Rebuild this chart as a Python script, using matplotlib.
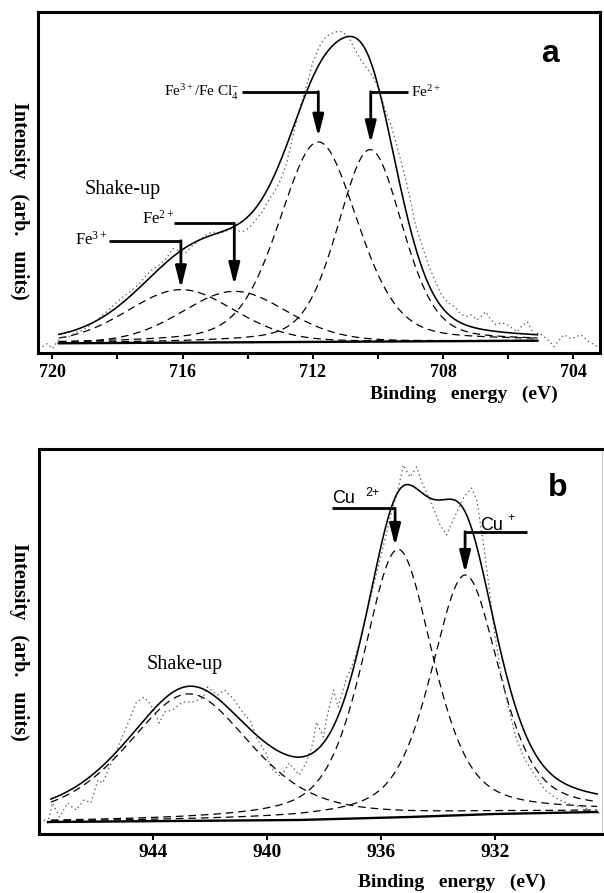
import numpy as np
import matplotlib
matplotlib.use("Agg")
import matplotlib.pyplot as plt

plt.rcParams['mathtext.fontset'] = 'custom'
plt.rcParams['mathtext.rm'] = 'Liberation Serif'
plt.rcParams['mathtext.it'] = 'Liberation Serif:italic'
plt.rcParams['mathtext.bf'] = 'Liberation Serif:bold'
plt.rcParams['lines.scale_dashes'] = False

# ---------------- Panel a : Fe 2p3/2 ----------------
fe_ev = [720.30, 720.15, 720.00, 719.85, 719.70, 719.50, 719.30, 719.10, 718.90, 718.70,
         718.50, 718.30, 718.10, 717.90, 717.70, 717.50, 717.30, 717.10, 716.90, 716.70,
         716.50, 716.30, 716.10, 715.90, 715.70, 715.50, 715.30, 715.07, 714.90, 714.70,
         714.50, 714.30, 714.15, 713.95, 713.75, 713.55, 713.40, 713.20, 713.00, 712.80,
         712.60, 712.40, 712.20, 712.00, 711.80, 711.65, 711.50, 711.30, 711.10, 710.90,
         710.75, 710.55, 710.35, 710.15, 709.95, 709.75, 709.60, 709.40, 709.20, 709.05,
         708.85, 708.65, 708.45, 708.25, 708.05, 707.85, 707.65, 707.46, 707.30, 707.15,
         706.95, 706.84, 706.69, 706.55, 706.38, 706.20, 706.03, 705.85, 705.72, 705.60,
         705.41, 705.21, 705.05, 704.90, 704.75, 704.59, 704.45, 704.28, 704.08, 703.90,
         703.77, 703.52, 703.35, 703.26]
fe_int = [6, 9, 4, 11, 16, 15, 20, 22, 26, 31,
          36, 42, 48, 54, 59, 64, 70, 78, 84, 88,
          94, 104, 102, 100, 107, 112, 117, 121, 119, 121,
          124, 122, 121, 125, 133, 141, 150, 160, 172, 190,
          218, 244, 266, 290, 306, 314, 318, 321, 321, 316,
          306, 294, 285, 276, 262, 240, 228, 205, 180, 160,
          128, 108, 88, 72, 58, 50, 46, 39, 36, 38,
          33, 36, 41, 34, 28, 30, 28, 24, 21, 26,
          31, 18, 20, 16, 12, 6, 12, 18, 14, 16,
          18, 11, 8, 6]
fe_fit_range = [719.8, 705.1]
fe_base_ev = [719.8, 705.1]
fe_base_int = [9.4, 12.0]
fe_names = ["Fe3+ shake-up", "Fe2+ shake-up", "Fe3+/FeCl4-", "Fe2+"]
fe_centers = [716.05, 714.41, 711.83, 710.24]
fe_heights = [53, 51, 200, 192]
fe_fwhm = [3.9, 3.8, 2.85, 2.35]
fe_lor = [0.15, 0.15, 0.3, 0.3]
fe_major = [720, 716, 712, 708, 704]
fe_minor = [718, 714, 710, 706]

# ---------------- Panel b : Cu 2p3/2 ----------------
cu_ev = [947.85, 947.71, 947.54, 947.30, 947.01, 946.72, 946.43, 946.19, 945.95, 945.78,
         945.43, 945.14, 944.84, 944.61, 944.32, 944.08, 943.79, 943.61, 943.32, 942.97,
         942.62, 942.26, 942.09, 941.74, 941.50, 941.21, 940.92, 940.57, 940.39, 940.04,
         939.86, 939.51, 939.22, 938.87, 938.63, 938.40, 938.26, 938.02, 937.90, 937.67,
         937.50, 937.20, 937.03, 936.79, 936.56, 936.21, 935.86, 935.61, 935.44, 935.21,
         934.98, 934.74, 934.57, 934.27, 933.92, 933.69, 933.46, 933.10, 932.81, 932.63,
         932.46, 932.34, 932.00, 931.80, 931.58, 931.23, 930.95, 930.64, 930.23, 929.85,
         929.47, 929.15, 928.89, 928.65, 928.41, 928.19]
cu_int = [14, 11, 31, 17, 31, 24, 34, 31, 54, 51,
          74, 94, 114, 131, 137, 129, 111, 122, 124, 132,
          132, 136, 147, 139, 144, 136, 124, 112, 97, 81,
          66, 57, 71, 59, 71, 90, 112, 97, 116, 144,
          127, 157, 167, 187, 214, 254, 294, 324, 339, 369,
          357, 367, 352, 334, 309, 299, 314, 336, 346, 334,
          302, 279, 200, 165, 134, 94, 75, 61, 44, 36,
          31, 28, 27, 24, 22, 19]
cu_fit_range = [947.6, 928.4]
cu_base_ev = [947.7, 938.9, 935.0, 932.0, 928.4]
cu_base_int = [12, 14, 17, 20, 22]
cu_names = ["Shake-up", "Cu2+", "Cu+"]
cu_centers = [942.75, 935.40, 933.04]
cu_heights = [127, 268, 240]
cu_fwhm = [5.2, 2.92, 2.85]
cu_lor = [0.5, 0.5, 0.5]
cu_major = [944, 940, 936, 932]


def pseudo_voigt(e, c, h, w, eta):
    d2 = (e - c) ** 2
    g = np.exp(-4 * np.log(2) * d2 / w ** 2)
    l = 1.0 / (1.0 + 4 * d2 / w ** 2)
    return h * ((1 - eta) * g + eta * l)


def draw_panel(ax, ev, inten, fit_range, base_ev, base_int, cen, hei, fw, lor):
    e = np.linspace(fit_range[0], fit_range[1], 600)
    base = np.interp(e, base_ev[::-1], base_int[::-1])
    total = base.copy()
    for c, h, w, eta in zip(cen, hei, fw, lor):
        comp = pseudo_voigt(e, c, h, w, eta)
        total += comp
        ax.plot(e, base + comp, color='k', lw=0.9, ls=(0, (5.5, 3.5)))
    ax.plot(ev, inten, color='0.35', lw=0.9, ls=(0, (1, 2.2)))
    ax.plot(base_ev, base_int, color='k', lw=1.7)
    ax.plot(e, total, color='k', lw=1.15)


def leader(ax, x0, xc, yl, yt):
    ax.plot([x0, xc], [yl, yl], color='k', lw=2.0, solid_capstyle='butt')
    ax.annotate('', xy=(xc, yt), xytext=(xc, yl),
                arrowprops=dict(arrowstyle='-|>,head_length=1.3,head_width=0.33',
                                lw=2.0, color='k', shrinkA=0, shrinkB=0,
                                mutation_scale=10))


W, H = 604, 893
fig = plt.figure(figsize=(6.04, 8.93), dpi=100)

ax_a = fig.add_axes([37.7 / W, 1 - 353 / H, (600.2 - 37.7) / W, (353 - 12) / H])
ax_b = fig.add_axes([39.3 / W, 1 - 833.5 / H, (602 - 39.3) / W, (833.5 - 449) / H])

# ---- panel a ----
draw_panel(ax_a, fe_ev, fe_int, fe_fit_range, fe_base_ev, fe_base_int,
           fe_centers, fe_heights, fe_fwhm, fe_lor)
ax_a.set_xlim(720.448, 703.173)
ax_a.set_ylim(-0.3, 340.7)
ax_a.set_xticks(fe_major)
ax_a.set_xticks(fe_minor, minor=True)
ax_a.set_xticklabels([str(t) for t in fe_major])

leader(ax_a, 714.18, 711.83, 261, 216)
leader(ax_a, 709.07, 710.22, 261, 209.4)
leader(ax_a, 716.25, 714.41, 129.4, 67.7)
leader(ax_a, 718.27, 716.05, 112, 64.4)

ser = 'Liberation Serif'
ax_a.text(714.24, 256, r'$\mathregular{Fe^{3+}/Fe\ Cl_4^{-}}$', ha='right', va='baseline',
          fontsize=11, family=ser)
ax_a.text(708.98, 256, r'$\mathregular{Fe^{2+}}$', ha='left', va='baseline',
          fontsize=11, family=ser)
ax_a.text(716.25, 129.4, r'$\mathregular{Fe^{2+}}$', ha='right', va='baseline',
          fontsize=12, family=ser)
ax_a.text(718.32, 107.7, r'$\mathregular{Fe^{3+}}$', ha='right', va='baseline',
          fontsize=12, family=ser)
ax_a.text(717.84, 158.7, 'Shake-up', ha='center', va='baseline', fontsize=14.5, family=ser)
ax_a.text(704.71, 298.7, 'a', ha='center', va='center', fontsize=23,
          family='Liberation Sans', weight='bold')

# ---- panel b ----
draw_panel(ax_b, cu_ev, cu_int, cu_fit_range, cu_base_ev, cu_base_int,
           cu_centers, cu_heights, cu_fwhm, cu_lor)
ax_b.set_xlim(948.007, 928.228)
ax_b.set_ylim(0.5, 385)
ax_b.set_xticks(cu_major)
ax_b.set_xticklabels([str(t) for t in cu_major])

leader(ax_b, 937.73, 935.50, 325.7, 288)
leader(ax_b, 930.88, 933.04, 302.3, 261)

sans = 'Liberation Sans'
ax_b.text(937.73, 331, 'Cu', ha='left', va='baseline', fontsize=13, family=sans)
ax_b.text(936.56, 338, '2+', ha='left', va='baseline', fontsize=9, family=sans)
ax_b.text(932.52, 304, 'Cu', ha='left', va='baseline', fontsize=13, family=sans)
ax_b.text(931.55, 313, '+', ha='left', va='baseline', fontsize=9, family=sans)
ax_b.text(942.89, 165, 'Shake-up', ha='center', va='baseline', fontsize=14.5, family=ser)
ax_b.text(929.79, 346, 'b', ha='center', va='center', fontsize=23,
          family='Liberation Sans', weight='bold')

# ---- styling ----
for ax, fs in ((ax_a, 13), (ax_b, 14)):
    ax.set_yticks([])
    for sp in ax.spines.values():
        sp.set_linewidth(2.2)
        sp.set_color('k')
    ax.tick_params(axis='x', which='both', direction='out', length=4.3, width=1.5,
                   pad=3.5, labelsize=fs, top=False)
    for lab in ax.get_xticklabels():
        lab.set_family(ser)
        lab.set_weight('bold')
ax_b.spines['right'].set_linewidth(0.8)
ax_b.spines['right'].set_color('0.8')

ylab = 'Intensity   (arb.   units)'
xlab = 'Binding   energy   (eV)'
for yc in (201, 642):
    fig.text(19 / W, 1 - yc / H, ylab, rotation=-90,
             ha='center', va='center', fontsize=14.5, family=ser, weight='bold')
fig.text(464 / W, 1 - 394.5 / H, xlab, ha='center', va='center',
         fontsize=14, family=ser, weight='bold')
fig.text(451.7 / W, 1 - 882.7 / H, xlab, ha='center', va='center',
         fontsize=14, family=ser, weight='bold')

fig.savefig('out.png', dpi=100)
